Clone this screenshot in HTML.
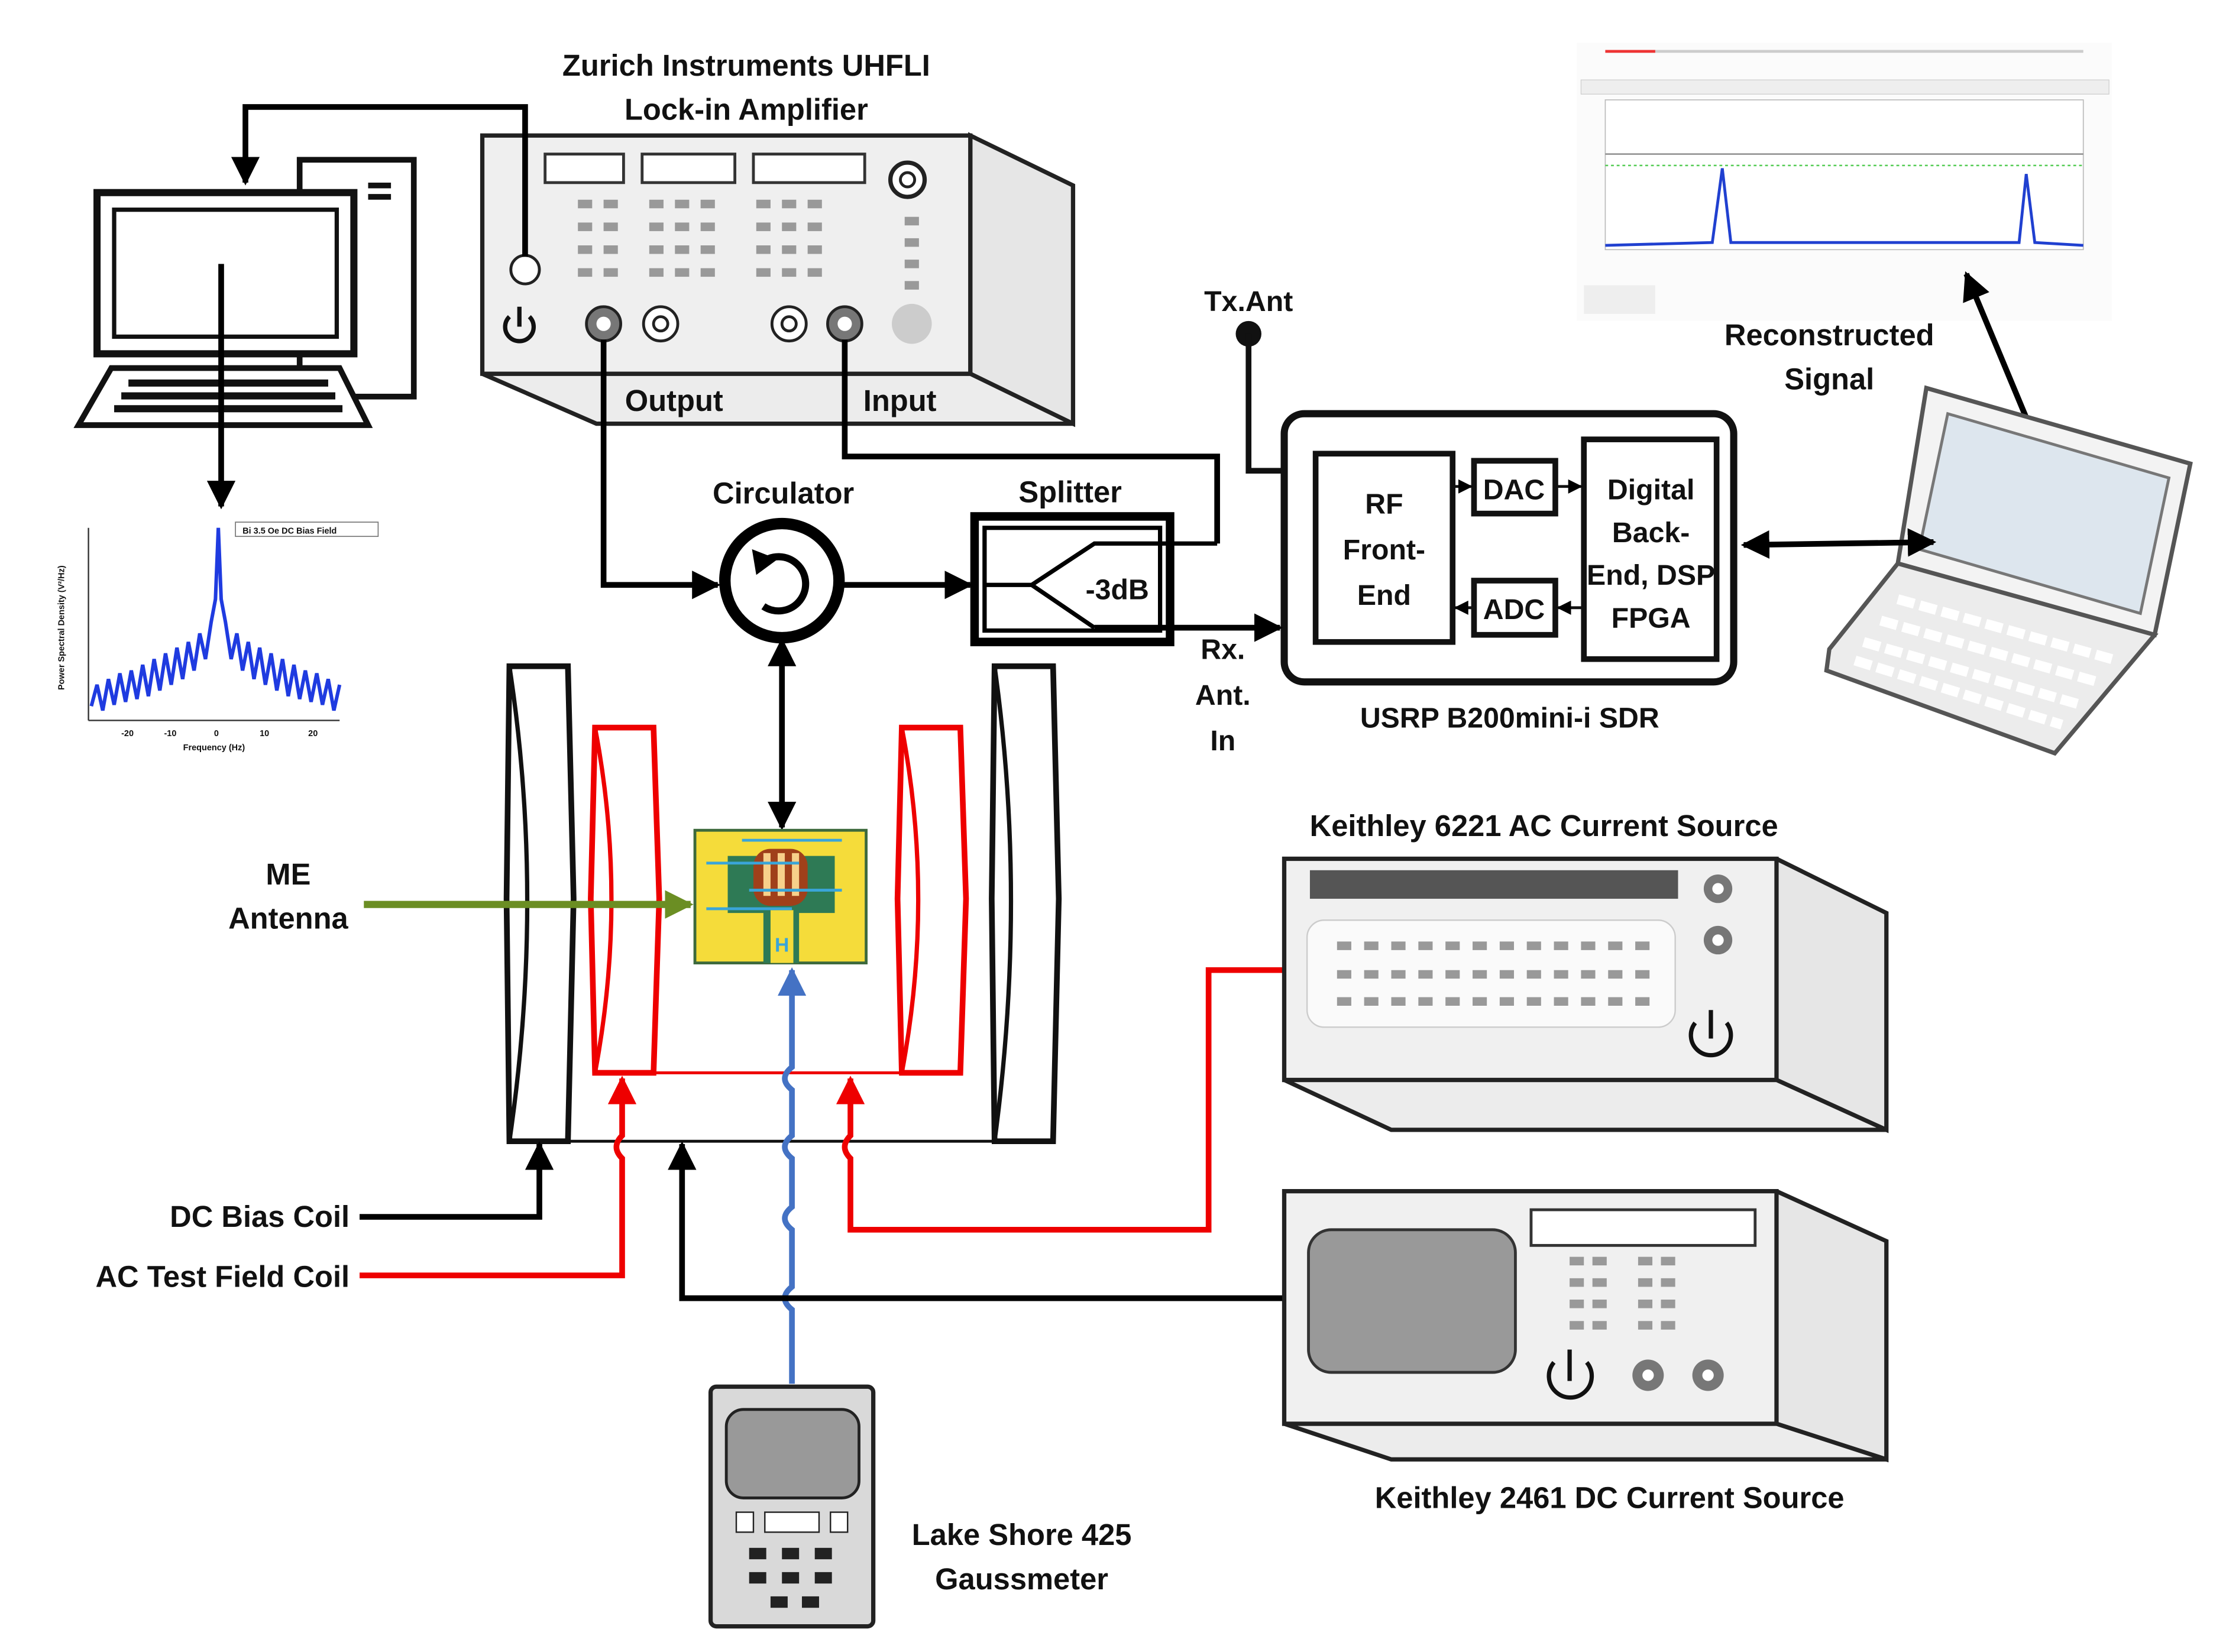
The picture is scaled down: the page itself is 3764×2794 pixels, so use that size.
<!DOCTYPE html>
<html><head><meta charset="utf-8"><style>html,body{margin:0;padding:0;background:#fff}svg{display:block}text{font-family:"Liberation Sans",sans-serif;font-weight:bold;fill:#111}</style></head>
<body>
<svg width="3764" height="2794" viewBox="0 0 1560 1158" preserveAspectRatio="none" xmlns="http://www.w3.org/2000/svg">
<defs>
<marker id="ah" viewBox="0 0 10 10" refX="9" refY="5" markerWidth="5" markerHeight="5" orient="auto-start-reverse"><path d="M0,0L10,5L0,10z" fill="#000"/></marker>
<marker id="ahr" viewBox="0 0 10 10" refX="9" refY="5" markerWidth="5" markerHeight="5" orient="auto"><path d="M0,0L10,5L0,10z" fill="#e00"/></marker>
<marker id="ahb" viewBox="0 0 10 10" refX="9" refY="5" markerWidth="5" markerHeight="5" orient="auto"><path d="M0,0L10,5L0,10z" fill="#4472c4"/></marker>
<marker id="ahg" viewBox="0 0 10 10" refX="9" refY="5" markerWidth="4" markerHeight="4" orient="auto"><path d="M0,0L10,5L0,10z" fill="#6b8e23"/></marker>
</defs>

<!-- Lock-in amplifier -->
<text x="523" y="53" font-size="21" text-anchor="middle">Zurich Instruments UHFLI</text>
<text x="523" y="84" font-size="21" text-anchor="middle">Lock-in Amplifier</text>
<polygon points="680,95 752,130 752,297 680,262" fill="#e6e6e6" stroke="#222" stroke-width="3"/>
<polygon points="338,262 680,262 752,297 418,297" fill="#ececec" stroke="#222" stroke-width="3"/>
<rect x="338" y="95" width="342" height="167" fill="#efefef" stroke="#222" stroke-width="3"/>
<rect x="382" y="108" width="55" height="20" fill="#fff" stroke="#333" stroke-width="2"/>
<rect x="450" y="108" width="65" height="20" fill="#fff" stroke="#333" stroke-width="2"/>
<rect x="528" y="108" width="78" height="20" fill="#fff" stroke="#333" stroke-width="2"/>
<g fill="#999">
<rect x="405" y="140" width="10" height="6"/><rect x="423" y="140" width="10" height="6"/><rect x="405" y="156" width="10" height="6"/><rect x="423" y="156" width="10" height="6"/><rect x="405" y="172" width="10" height="6"/><rect x="423" y="172" width="10" height="6"/><rect x="405" y="188" width="10" height="6"/><rect x="423" y="188" width="10" height="6"/>
<rect x="455" y="140" width="10" height="6"/><rect x="473" y="140" width="10" height="6"/><rect x="491" y="140" width="10" height="6"/><rect x="455" y="156" width="10" height="6"/><rect x="473" y="156" width="10" height="6"/><rect x="491" y="156" width="10" height="6"/><rect x="455" y="172" width="10" height="6"/><rect x="473" y="172" width="10" height="6"/><rect x="491" y="172" width="10" height="6"/><rect x="455" y="188" width="10" height="6"/><rect x="473" y="188" width="10" height="6"/><rect x="491" y="188" width="10" height="6"/>
<rect x="530" y="140" width="10" height="6"/><rect x="548" y="140" width="10" height="6"/><rect x="566" y="140" width="10" height="6"/><rect x="530" y="156" width="10" height="6"/><rect x="548" y="156" width="10" height="6"/><rect x="566" y="156" width="10" height="6"/><rect x="530" y="172" width="10" height="6"/><rect x="548" y="172" width="10" height="6"/><rect x="566" y="172" width="10" height="6"/><rect x="530" y="188" width="10" height="6"/><rect x="548" y="188" width="10" height="6"/><rect x="566" y="188" width="10" height="6"/>
<rect x="634" y="152" width="10" height="6"/><rect x="634" y="167" width="10" height="6"/><rect x="634" y="182" width="10" height="6"/><rect x="634" y="197" width="10" height="6"/>
</g>
<circle cx="636" cy="126" r="12" fill="#fff" stroke="#222" stroke-width="3"/><circle cx="636" cy="126" r="5" fill="none" stroke="#222" stroke-width="2"/>
<circle cx="368" cy="189" r="10" fill="#fff" stroke="#222" stroke-width="2"/>
<path d="M357,222 A10,10 0 1 0 371,222" fill="none" stroke="#111" stroke-width="3"/><line x1="364" y1="215" x2="364" y2="229" stroke="#111" stroke-width="3"/>
<circle cx="423" cy="227" r="12" fill="#777" stroke="#222" stroke-width="2"/><circle cx="423" cy="227" r="5" fill="#fff"/>
<circle cx="463" cy="227" r="12" fill="#fff" stroke="#222" stroke-width="2"/><circle cx="463" cy="227" r="5" fill="none" stroke="#222" stroke-width="2"/>
<circle cx="553" cy="227" r="12" fill="#fff" stroke="#222" stroke-width="2"/><circle cx="553" cy="227" r="5" fill="none" stroke="#222" stroke-width="2"/>
<circle cx="592" cy="227" r="12" fill="#777" stroke="#222" stroke-width="2"/><circle cx="592" cy="227" r="5" fill="#fff"/>
<circle cx="639" cy="227" r="14" fill="#ccc"/>
<text x="438" y="288" font-size="21">Output</text>
<text x="605" y="288" font-size="21">Input</text>

<!-- Computer -->
<rect x="210" y="112" width="80" height="166" fill="#fff" stroke="#111" stroke-width="4"/>
<line x1="258" y1="130" x2="274" y2="130" stroke="#111" stroke-width="4"/><line x1="258" y1="138" x2="274" y2="138" stroke="#111" stroke-width="4"/>
<rect x="68" y="135" width="180" height="113" fill="#fff" stroke="#111" stroke-width="5"/>
<rect x="80" y="147" width="156" height="89" fill="#fff" stroke="#111" stroke-width="3"/>
<polygon points="78,258 238,258 258,298 55,298" fill="#fff" stroke="#111" stroke-width="4"/>
<g fill="#111"><rect x="90" y="266" width="140" height="5"/><rect x="85" y="275" width="150" height="5"/><rect x="80" y="284" width="160" height="5"/></g>
<polyline points="368,180 368,75 172,75 172,128" fill="none" stroke="#000" stroke-width="4" marker-end="url(#ah)"/>
<line x1="155" y1="185" x2="155" y2="355" stroke="#000" stroke-width="4" marker-end="url(#ah)"/>

<!-- spectrum -->
<line x1="62" y1="370" x2="62" y2="505" stroke="#333"/><line x1="62" y1="505" x2="238" y2="505" stroke="#333"/>
<path d="M64,495 L68,480 L72,498 L76,476 L80,494 L84,472 L88,492 L92,470 L96,490 L100,466 L104,488 L108,462 L112,484 L116,458 L120,480 L124,454 L128,476 L132,450 L136,470 L140,444 L144,462 L148,436 L151,420 L153,370 L155,420 L158,436 L162,462 L166,444 L170,470 L174,450 L178,476 L182,454 L186,480 L190,458 L194,484 L198,462 L202,488 L206,466 L210,490 L214,470 L218,492 L222,472 L226,494 L230,476 L234,498 L238,480" fill="none" stroke="#1f3be0" stroke-width="2.5"/>
<rect x="165" y="366" width="100" height="10" fill="#fff" stroke="#777" stroke-width="0.7"/>
<text x="170" y="374" font-size="6" font-weight="normal">Bi 3.5 Oe DC Bias Field</text>
<text x="45" y="440" font-size="6" font-weight="normal" transform="rotate(-90 45 440)" text-anchor="middle">Power Spectral Density (V²/Hz)</text>
<text x="150" y="526" font-size="6" font-weight="normal" text-anchor="middle">Frequency (Hz)</text>
<g font-size="6" font-weight="normal"><text x="85" y="516">-20</text><text x="115" y="516">-10</text><text x="150" y="516">0</text><text x="182" y="516">10</text><text x="216" y="516">20</text></g>

<!-- screenshot top right -->
<rect x="1105" y="30" width="375" height="195" fill="#fbfbfb"/>
<line x1="1125" y1="36" x2="1460" y2="36" stroke="#ccc" stroke-width="2"/><line x1="1125" y1="36" x2="1160" y2="36" stroke="#e33" stroke-width="2"/>
<rect x="1108" y="56" width="370" height="10" fill="#eee" stroke="#ccc" stroke-width="0.5"/>
<rect x="1125" y="70" width="335" height="105" fill="#fff" stroke="#bbb" stroke-width="0.7"/>
<line x1="1125" y1="108" x2="1460" y2="108" stroke="#888"/>
<line x1="1125" y1="116" x2="1460" y2="116" stroke="#5c5" stroke-dasharray="2,2"/>
<path d="M1125,172 L1200,170 L1207,118 L1213,170 L1415,170 L1420,122 L1426,170 L1460,172" fill="none" stroke="#2040d0" stroke-width="2"/>
<rect x="1110" y="200" width="50" height="20" fill="#eee"/>

<!-- Reconstructed signal -->
<text x="1282" y="242" font-size="21" text-anchor="middle">Reconstructed</text>
<text x="1282" y="273" font-size="21" text-anchor="middle">Signal</text>
<line x1="1428" y1="312" x2="1378" y2="192" stroke="#000" stroke-width="4" marker-end="url(#ah)"/>

<!-- laptop -->
<polygon points="1350,272 1535,325 1510,445 1330,395" fill="#f3f3f3" stroke="#555" stroke-width="3"/>
<polygon points="1365,290 1520,335 1500,430 1345,385" fill="#dde6ee" stroke="#777" stroke-width="2"/>
<polygon points="1330,395 1510,445 1440,528 1280,470 1282,455" fill="#ececec" stroke="#555" stroke-width="3"/>
<g stroke="#fff" stroke-width="7" stroke-dasharray="12,4"><line x1="1330" y1="420" x2="1480" y2="462"/><line x1="1318" y1="435" x2="1470" y2="478"/><line x1="1306" y1="450" x2="1458" y2="494"/><line x1="1300" y1="463" x2="1445" y2="508"/></g>

<!-- Tx Ant -->
<text x="875" y="218" font-size="20" text-anchor="middle">Tx.Ant</text>
<circle cx="875" cy="234" r="9" fill="#111"/>
<polyline points="875,234 875,330 922,330" fill="none" stroke="#111" stroke-width="4"/>

<!-- USRP -->
<rect x="900" y="290" width="315" height="188" rx="14" fill="#fff" stroke="#111" stroke-width="5"/>
<rect x="922" y="318" width="96" height="132" fill="#fff" stroke="#111" stroke-width="4"/>
<text x="970" y="360" font-size="20" text-anchor="middle">RF</text>
<text x="970" y="392" font-size="20" text-anchor="middle">Front-</text>
<text x="970" y="424" font-size="20" text-anchor="middle">End</text>
<rect x="1033" y="323" width="57" height="37" fill="#fff" stroke="#111" stroke-width="4"/>
<text x="1061" y="350" font-size="20" text-anchor="middle">DAC</text>
<rect x="1033" y="407" width="57" height="38" fill="#fff" stroke="#111" stroke-width="4"/>
<text x="1061" y="434" font-size="20" text-anchor="middle">ADC</text>
<rect x="1110" y="308" width="93" height="154" fill="#fff" stroke="#111" stroke-width="4"/>
<text x="1157" y="350" font-size="20" text-anchor="middle">Digital</text>
<text x="1157" y="380" font-size="20" text-anchor="middle">Back-</text>
<text x="1157" y="410" font-size="20" text-anchor="middle">End, DSP</text>
<text x="1157" y="440" font-size="20" text-anchor="middle">FPGA</text>
<line x1="1018" y1="341" x2="1031" y2="341" stroke="#111" stroke-width="2" marker-end="url(#ah)"/>
<line x1="1090" y1="341" x2="1108" y2="341" stroke="#111" stroke-width="2" marker-end="url(#ah)"/>
<line x1="1033" y1="426" x2="1020" y2="426" stroke="#111" stroke-width="2" marker-end="url(#ah)"/>
<line x1="1110" y1="426" x2="1092" y2="426" stroke="#111" stroke-width="2" marker-end="url(#ah)"/>
<text x="1058" y="510" font-size="20" text-anchor="middle">USRP B200mini-i SDR</text>
<line x1="1222" y1="382" x2="1355" y2="380" stroke="#000" stroke-width="4" marker-start="url(#ah)" marker-end="url(#ah)"/>

<!-- circulator / splitter -->
<text x="549" y="353" font-size="21" text-anchor="middle">Circulator</text>
<circle cx="548" cy="407" r="40" fill="#fff" stroke="#000" stroke-width="8"/>
<path d="M533,395 A19,19 0 1 1 535,425" fill="none" stroke="#000" stroke-width="5"/>
<polygon points="527,385 545,392 530,403" fill="#000"/>
<polyline points="423,238 423,410 503,410" fill="none" stroke="#000" stroke-width="4" marker-end="url(#ah)"/>
<line x1="590" y1="410" x2="680" y2="410" stroke="#000" stroke-width="4" marker-end="url(#ah)"/>
<line x1="548" y1="449" x2="548" y2="580" stroke="#000" stroke-width="4" marker-start="url(#ah)" marker-end="url(#ah)"/>
<text x="750" y="352" font-size="21" text-anchor="middle">Splitter</text>
<rect x="683" y="362" width="137" height="88" fill="#fff" stroke="#000" stroke-width="6"/>
<rect x="690" y="370" width="123" height="72" fill="none" stroke="#000" stroke-width="3"/>
<polyline points="690,410 723,410" fill="none" stroke="#000" stroke-width="3"/>
<polyline points="853,381 767,381 723,410 767,440" fill="none" stroke="#000" stroke-width="3"/>
<polyline points="853,381 853,320 592,320 592,238" fill="none" stroke="#000" stroke-width="4"/>
<polyline points="767,440 897,440" fill="none" stroke="#000" stroke-width="4" marker-end="url(#ah)"/>
<text x="783" y="420" font-size="20" font-weight="normal" text-anchor="middle">-3dB</text>
<text x="857" y="462" font-size="20" text-anchor="middle">Rx.</text>
<text x="857" y="494" font-size="20" text-anchor="middle">Ant.</text>
<text x="857" y="526" font-size="20" text-anchor="middle">In</text>

<!-- Coils -->
<path d="M357,467 L398,467 L402,630 L398,800 L357,800 L355,630 Z" fill="#fff" stroke="#111" stroke-width="4"/>
<path d="M357,467 Q382,630 357,800" fill="none" stroke="#111" stroke-width="3"/>
<path d="M697,467 L738,467 L742,630 L738,800 L697,800 L695,630 Z" fill="#fff" stroke="#111" stroke-width="4"/>
<path d="M697,467 Q720,630 697,800" fill="none" stroke="#111" stroke-width="3"/>
<line x1="380" y1="800" x2="715" y2="800" stroke="#111" stroke-width="2"/>
<path d="M417,510 L458,510 L462,630 L458,752 L417,752 L414,630 Z" fill="#fff" stroke="#e00" stroke-width="4"/>
<path d="M417,510 Q440,630 417,752" fill="none" stroke="#e00" stroke-width="3"/>
<path d="M632,510 L673,510 L677,630 L673,752 L632,752 L629,630 Z" fill="#fff" stroke="#e00" stroke-width="4"/>
<path d="M632,510 Q655,630 632,752" fill="none" stroke="#e00" stroke-width="3"/>
<line x1="440" y1="752" x2="652" y2="752" stroke="#e00" stroke-width="2"/>

<!-- ME antenna -->
<rect x="487" y="582" width="120" height="93" fill="#f5dc3a" stroke="#3d6a3d" stroke-width="2"/>
<path d="M510,600 L585,600 L585,640 L560,640 L560,675 L535,675 L535,640 L510,640 Z" fill="#2e7a55"/>
<rect x="528" y="595" width="38" height="40" rx="12" fill="#a0401a"/>
<rect x="535" y="598" width="5" height="30" fill="#f7d08a"/><rect x="545" y="598" width="5" height="30" fill="#f7d08a"/><rect x="555" y="598" width="5" height="30" fill="#f7d08a"/>
<rect x="540" y="638" width="16" height="37" fill="#f5dc3a"/>
<text x="548" y="667" font-size="14" text-anchor="middle" style="fill:#3aa5d8">H</text>
<g stroke="#3aa5d8" stroke-width="2"><line x1="520" y1="589" x2="590" y2="589"/><line x1="495" y1="605" x2="560" y2="605"/><line x1="525" y1="624" x2="590" y2="624"/><line x1="495" y1="637" x2="555" y2="637"/></g>
<text x="202" y="620" font-size="21" text-anchor="middle">ME</text>
<text x="202" y="651" font-size="21" text-anchor="middle">Antenna</text>
<line x1="255" y1="634" x2="484" y2="634" stroke="#6b8e23" stroke-width="5" marker-end="url(#ahg)"/>

<!-- blue gaussmeter line -->
<path d="M555,970 L555,918 Q545,910 555,902 L555,862 Q545,854 555,846 L555,812 Q545,804 555,796 L555,764 Q545,756 555,748 L555,680" fill="none" stroke="#4472c4" stroke-width="4" marker-end="url(#ahb)"/>

<!-- DC bias coil -->
<text x="245" y="860" font-size="21" text-anchor="end">DC Bias Coil</text>
<polyline points="252,853 378,853 378,802" fill="none" stroke="#000" stroke-width="4" marker-end="url(#ah)"/>
<text x="245" y="902" font-size="21" text-anchor="end">AC Test Field Coil</text>
<path d="M252,894 L436,894 L436,812 Q428,804 436,796 L436,756" fill="none" stroke="#e00" stroke-width="4" marker-end="url(#ahr)"/>
<polyline points="900,910 478,910 478,802" fill="none" stroke="#000" stroke-width="4" marker-end="url(#ah)"/>
<path d="M900,680 L847,680 L847,862 L596,862 L596,812 Q588,804 596,796 L596,756" fill="none" stroke="#e00" stroke-width="4" marker-end="url(#ahr)"/>

<!-- Keithley 6221 -->
<text x="1082" y="586" font-size="21" text-anchor="middle">Keithley 6221 AC Current Source</text>
<polygon points="900,602 1245,602 1322,640 1322,792 1245,757 900,757" fill="#e6e6e6" stroke="#222" stroke-width="3"/>
<polygon points="900,757 1245,757 1322,792 975,792" fill="#ececec" stroke="#222" stroke-width="3"/>
<rect x="900" y="602" width="345" height="155" fill="#f0f0f0" stroke="#222" stroke-width="3"/>
<rect x="918" y="610" width="258" height="20" fill="#555"/>
<rect x="916" y="645" width="258" height="75" rx="12" fill="#fafafa" stroke="#ccc"/>
<g stroke="#999" stroke-width="6" stroke-dasharray="10,9"><line x1="937" y1="663" x2="1160" y2="663"/><line x1="937" y1="683" x2="1160" y2="683"/><line x1="937" y1="702" x2="1160" y2="702"/></g>
<circle cx="1204" cy="623" r="10" fill="#777"/><circle cx="1204" cy="623" r="4" fill="#fff"/>
<circle cx="1204" cy="659" r="10" fill="#777"/><circle cx="1204" cy="659" r="4" fill="#fff"/>
<path d="M1188,717 A14,14 0 1 0 1210,717" fill="none" stroke="#111" stroke-width="3"/><line x1="1199" y1="708" x2="1199" y2="728" stroke="#111" stroke-width="3"/>

<!-- Keithley 2461 -->
<polygon points="900,835 1245,835 1322,870 1322,1023 1245,998 900,998" fill="#e6e6e6" stroke="#222" stroke-width="3"/>
<polygon points="900,998 1245,998 1322,1023 975,1023" fill="#ececec" stroke="#222" stroke-width="3"/>
<rect x="900" y="835" width="345" height="163" fill="#f0f0f0" stroke="#222" stroke-width="3"/>
<rect x="917" y="862" width="145" height="100" rx="16" fill="#999" stroke="#333" stroke-width="2"/>
<rect x="1073" y="848" width="157" height="25" fill="#fff" stroke="#333" stroke-width="2"/>
<g stroke="#999" stroke-width="6" stroke-dasharray="10,6"><line x1="1100" y1="884" x2="1132" y2="884"/><line x1="1148" y1="884" x2="1180" y2="884"/><line x1="1100" y1="899" x2="1132" y2="899"/><line x1="1148" y1="899" x2="1180" y2="899"/><line x1="1100" y1="914" x2="1132" y2="914"/><line x1="1148" y1="914" x2="1180" y2="914"/><line x1="1100" y1="929" x2="1132" y2="929"/><line x1="1148" y1="929" x2="1180" y2="929"/></g>
<path d="M1089,955 A15,15 0 1 0 1112,955" fill="none" stroke="#111" stroke-width="3"/><line x1="1100" y1="946" x2="1100" y2="968" stroke="#111" stroke-width="3"/>
<circle cx="1155" cy="964" r="11" fill="#777"/><circle cx="1155" cy="964" r="4" fill="#fff"/>
<circle cx="1197" cy="964" r="11" fill="#777"/><circle cx="1197" cy="964" r="4" fill="#fff"/>
<text x="1128" y="1057" font-size="21" text-anchor="middle">Keithley 2461 DC Current Source</text>

<!-- Gaussmeter -->
<rect x="498" y="972" width="114" height="168" rx="4" fill="#d9d9d9" stroke="#222" stroke-width="3"/>
<rect x="509" y="988" width="93" height="62" rx="12" fill="#999" stroke="#222" stroke-width="2"/>
<rect x="516" y="1060" width="12" height="14" fill="#fff" stroke="#222"/><rect x="536" y="1060" width="38" height="14" fill="#fff" stroke="#222"/><rect x="582" y="1060" width="12" height="14" fill="#fff" stroke="#222"/>
<g fill="#222"><rect x="525" y="1085" width="12" height="8"/><rect x="548" y="1085" width="12" height="8"/><rect x="571" y="1085" width="12" height="8"/><rect x="525" y="1102" width="12" height="8"/><rect x="548" y="1102" width="12" height="8"/><rect x="571" y="1102" width="12" height="8"/><rect x="540" y="1119" width="12" height="8"/><rect x="562" y="1119" width="12" height="8"/></g>
<text x="716" y="1083" font-size="21" text-anchor="middle">Lake Shore 425</text>
<text x="716" y="1114" font-size="21" text-anchor="middle">Gaussmeter</text>
</svg>
</body></html>
